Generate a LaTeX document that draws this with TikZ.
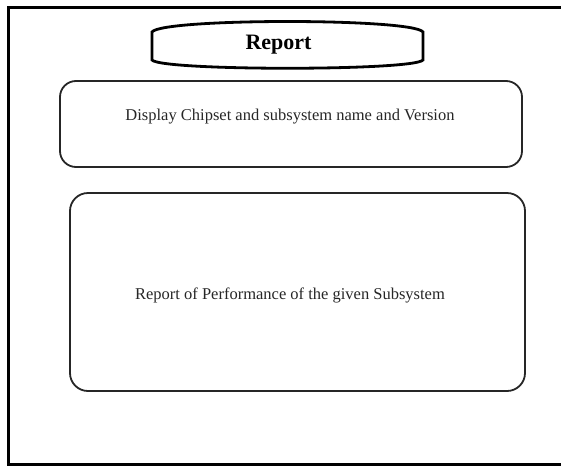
\documentclass[tikz,border=0pt]{standalone}
\usepackage{fontspec}
\setmainfont{Liberation Serif}
\begin{document}
\begin{tikzpicture}[x=1pt,y=-1pt,
  frameline/.style={line width=3pt,draw=black},
  titleline/.style={line width=2.8pt,draw=black},
  panel/.style={draw=black!85,line width=1.8pt,rounded corners=16pt,inner sep=0pt},
  bodytext/.style={font=\fontsize{16.5}{19}\selectfont,text=black!85,inner sep=0pt},
  titletext/.style={font=\fontsize{22}{26}\selectfont\bfseries,inner sep=0pt}]
\useasboundingbox (0,0) rectangle (561,466);
% outer frame (open on the right)
\draw[frameline] (561,7) -- (8,7) -- (8,464) -- (561,464);
% title badge
\draw[titleline] (152,32) .. controls (162,18) and (413,18) .. (423,32)
  -- (423,60) .. controls (413,71) and (162,71) .. (152,60) -- cycle;
\node[titletext] (title) at (278.5,45) {Report};
% upper panel
\node[panel,minimum width=462pt,minimum height=86pt] (info) at (291,124) {};
\node[bodytext] (infotext) at (290,117) {Display Chipset and subsystem name and Version};
% lower panel
\node[panel,minimum width=455pt,minimum height=198pt,rounded corners=18pt] (perf) at (297.5,292) {};
\node[bodytext] (perftext) at (290,295) {Report of Performance of the given Subsystem};
\end{tikzpicture}
\end{document}
